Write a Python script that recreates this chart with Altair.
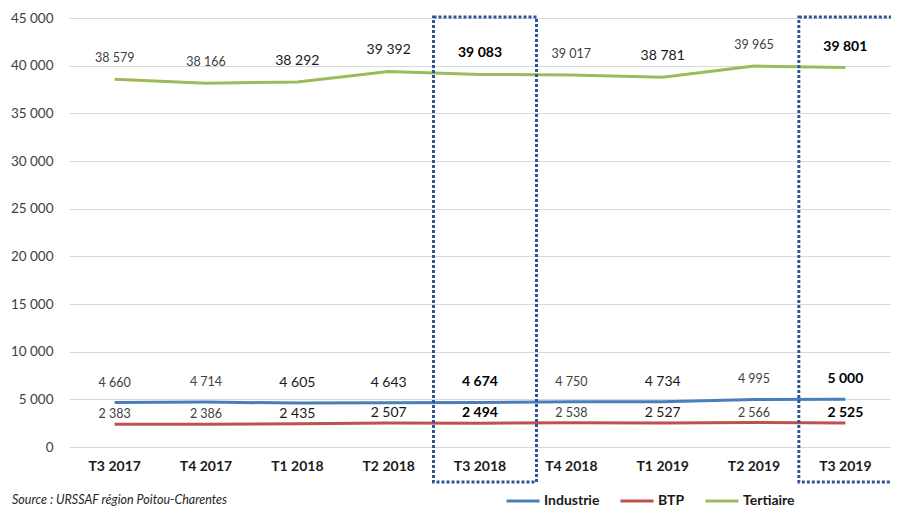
import altair as alt
import pandas as pd

quarters = ["T3 2017", "T4 2017", "T1 2018", "T2 2018", "T3 2018",
            "T4 2018", "T1 2019", "T2 2019", "T3 2019"]
industrie = [4660, 4714, 4605, 4643, 4674, 4750, 4734, 4995, 5000]
btp = [2383, 2386, 2435, 2507, 2494, 2538, 2527, 2566, 2525]
tertiaire = [38579, 38166, 38292, 39392, 39083, 39017, 38781, 39965, 39801]
series_names = ["Industrie", "BTP", "Tertiaire"]
series_colors = ["#4A7EBB", "#C0504D", "#9BBB59"]
highlighted = ["T3 2018", "T3 2019"]
y_ticks = [0, 5000, 10000, 15000, 20000, 25000, 30000, 35000, 40000, 45000]

# label emphasis per quarter (style, not data)
large_quarters = ["T1 2018", "T2 2018", "T1 2019"]

rows = []
for name, vals in zip(series_names, [industrie, btp, tertiaire]):
    for q, v in zip(quarters, vals):
        style = "bold" if q in highlighted else ("large" if q in large_quarters else "normal")
        rows.append({"quarter": q, "series": name, "value": v,
                     "label": f"{v:,}".replace(",", " "), "style": style})
df = pd.DataFrame(rows)
hl = pd.DataFrame({"quarter": highlighted})

W, H = 822, 429
FONT = "Lato"

xenc = alt.X("quarter:N", sort=quarters, bandPosition=0.5,
             scale=alt.Scale(type="band", paddingInner=0, paddingOuter=0),
             axis=alt.Axis(title=None, labelAngle=0, labelFontWeight="bold",
                           labelFontSize=14, labelColor="#1a1a1a", labelFont=FONT,
                           domain=False, ticks=False, grid=False, labelPadding=12))
yenc = alt.Y("value:Q", scale=alt.Scale(domain=[0, 45000], nice=False),
             axis=alt.Axis(title=None, values=y_ticks, domain=False, ticks=False,
                           labelFontSize=13.5, labelColor="#404040", labelFont=FONT,
                           labelPadding=16, gridColor="#D9D9D9", gridWidth=1,
                           labelExpr="replace(format(datum.value, ','), ',', ' ')"))

lines = alt.Chart(df).mark_line(strokeWidth=3).encode(
    x=xenc, y=yenc,
    color=alt.Color("series:N", sort=series_names,
                    scale=alt.Scale(domain=series_names, range=series_colors),
                    legend=alt.Legend(title=None, orient="none", direction="horizontal",
                                      legendX=436, legendY=465, symbolType="stroke",
                                      symbolStrokeWidth=3, symbolSize=1089,
                                      labelFontSize=14, labelFontWeight="bold",
                                      labelFont=FONT, labelColor="#1a1a1a",
                                      labelOffset=3, columnPadding=14, padding=0))
)

boxes = alt.Chart(hl).mark_rect(filled=False, stroke="#2F5597", strokeWidth=3,
                                strokeDash=[3, 2], width=103, xOffset=5).encode(
    x=alt.X("quarter:N", sort=quarters), y=alt.value(-1), y2=alt.value(H + 35)
)

styles = {"normal": dict(fontSize=12.5, fontWeight="normal", color="#404040"),
          "large": dict(fontSize=14, fontWeight="normal", color="#1a1a1a"),
          "bold": dict(fontSize=14, fontWeight="bold", color="#000000")}
dys = {"Industrie": -20, "BTP": -10, "Tertiaire": -21}

label_layers = []
for s in series_names:
    for st, props in styles.items():
        label_layers.append(
            alt.Chart(df).transform_filter(
                (alt.datum.series == s) & (alt.datum.style == st)
            ).mark_text(dy=dys[s], font=FONT, **props).encode(
                x=alt.X("quarter:N", sort=quarters, bandPosition=0.5),
                y="value:Q", text="label:N")
        )

source = alt.Chart(pd.DataFrame({"t": ["Source : URSSAF région Poitou-Charentes"]})).mark_text(
    align="left", baseline="middle", fontStyle="italic", fontSize=12.5, font=FONT,
    color="#262626").encode(x=alt.value(-57), y=alt.value(H + 53), text="t:N")

chart = alt.layer(lines, boxes, *label_layers, source).properties(
    width=W, height=H,
    autosize=alt.AutoSizeParams(type="none"),
    padding={"left": 61, "top": 10, "right": 0, "bottom": 60},
).configure_view(stroke=None)

chart.save("out.html", embed_options={"renderer": "svg", "actions": False})
